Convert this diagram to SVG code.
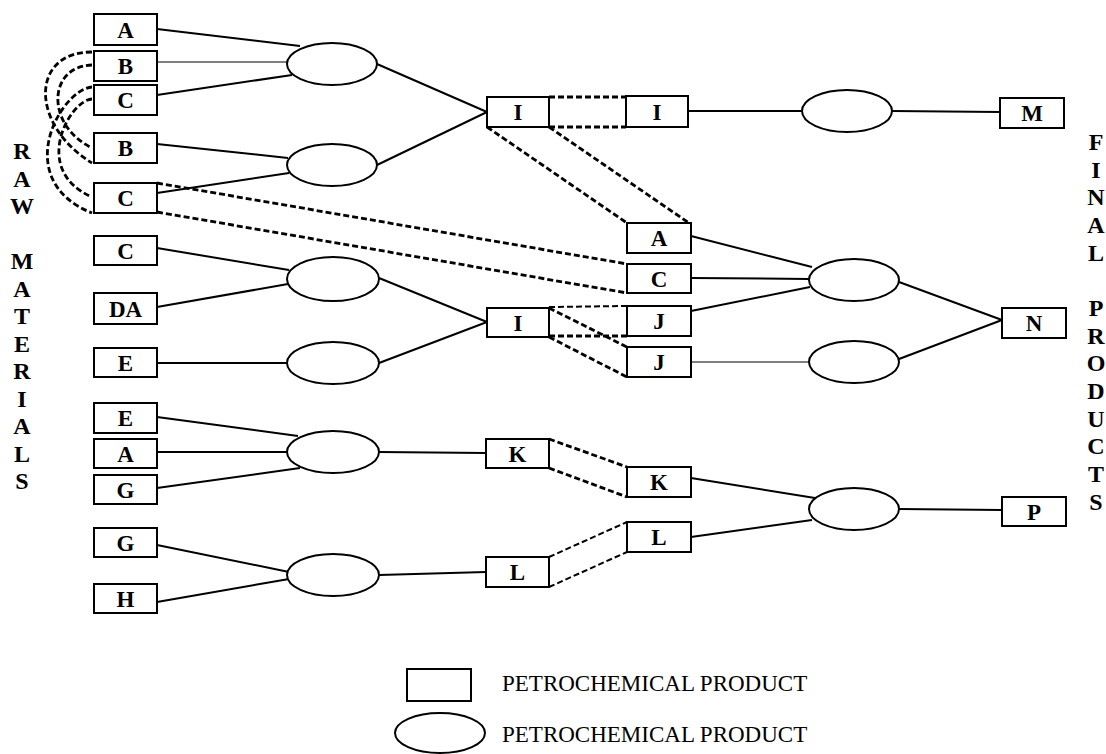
<svg xmlns="http://www.w3.org/2000/svg" width="1106" height="754" viewBox="0 0 1106 754">
  <style>
    .box { fill: #ffffff; stroke: #000000; stroke-width: 2; }
    .proc { fill: #ffffff; stroke: #000000; stroke-width: 2; }
    .lbl { font-family: "Liberation Serif", "Times New Roman", serif; font-weight: bold; font-size: 23px; text-anchor: middle; fill: #000000; }
    .side { font-family: "Liberation Serif", "Times New Roman", serif; font-weight: bold; font-size: 24px; text-anchor: middle; fill: #000000; }
    .legend { font-family: "Liberation Serif", "Times New Roman", serif; font-size: 23px; fill: #000000; }
    .ln { fill: none; stroke: #000000; stroke-width: 2; }
    .thin { fill: none; stroke: #000000; stroke-width: 1.2; }
    .dash { fill: none; stroke: #000000; stroke-width: 2.8; stroke-dasharray: 6 3; }
    .dash-thin { fill: none; stroke: #000000; stroke-width: 2; stroke-dasharray: 6 3; }
  </style>

  <rect width="1106" height="754" fill="#ffffff"/>

  <!-- connectors -->
  <g id="connectors">
    <!-- raw materials into first-stage processes -->
    <line class="ln" x1="157" y1="29" x2="300" y2="46"/>
    <line class="thin" x1="157" y1="62" x2="287" y2="62"/>
    <line class="ln" x1="157" y1="95" x2="292" y2="75"/>
    <line class="ln" x1="157" y1="144" x2="288" y2="158"/>
    <line class="ln" x1="157" y1="193" x2="289" y2="173"/>
    <line class="ln" x1="377" y1="64" x2="487" y2="112"/>
    <line class="ln" x1="377" y1="165" x2="487" y2="112"/>
    <line class="ln" x1="157" y1="248" x2="289" y2="270"/>
    <line class="ln" x1="157" y1="307" x2="288" y2="284"/>
    <line class="ln" x1="157" y1="363" x2="287" y2="363"/>
    <line class="ln" x1="379" y1="278" x2="487" y2="322"/>
    <line class="ln" x1="379" y1="363" x2="487" y2="322"/>
    <line class="ln" x1="157" y1="417" x2="298" y2="436"/>
    <line class="ln" x1="157" y1="452" x2="287" y2="452"/>
    <line class="ln" x1="157" y1="488" x2="300" y2="468"/>
    <line class="ln" x1="379" y1="452" x2="486" y2="453"/>
    <line class="ln" x1="157" y1="545" x2="289" y2="572"/>
    <line class="ln" x1="157" y1="602" x2="289" y2="579"/>
    <line class="ln" x1="379" y1="575" x2="486" y2="572"/>

    <!-- intermediates into final products -->
    <line class="ln" x1="688" y1="111" x2="802" y2="111"/>
    <line class="ln" x1="892" y1="111" x2="1000" y2="112"/>
    <line class="ln" x1="691" y1="236" x2="812" y2="267"/>
    <line class="ln" x1="691" y1="278" x2="809" y2="279"/>
    <line class="ln" x1="691" y1="311" x2="810" y2="287"/>
    <line class="thin" x1="688" y1="362" x2="809" y2="362"/>
    <line class="ln" x1="899" y1="282" x2="1002" y2="320"/>
    <line class="ln" x1="899" y1="359" x2="1002" y2="320"/>
    <line class="ln" x1="691" y1="478" x2="815" y2="498"/>
    <line class="ln" x1="691" y1="537" x2="812" y2="520"/>
    <line class="ln" x1="899" y1="509" x2="1002" y2="510"/>

    <!-- same-product links -->
    <path class="dash" d="M92,52 C30,52 30,125 92,163"/>
    <path class="dash" d="M92,65 C48,66 45,125 92,148"/>
    <path class="dash" d="M92,87 C60,90 10,180 92,213"/>
    <path class="dash" d="M92,99 C70,100 30,170 92,197"/>

    <line class="dash" x1="157" y1="183" x2="627" y2="264"/>
    <line class="dash" x1="157" y1="212" x2="627" y2="293"/>

    <line class="dash" x1="549" y1="97" x2="626" y2="97"/>
    <line class="dash" x1="549" y1="127" x2="626" y2="127"/>
    <line class="dash" x1="487" y1="127" x2="627" y2="223"/>
    <line class="dash" x1="549" y1="127" x2="689" y2="223"/>

    <line class="dash-thin" x1="549" y1="307" x2="627" y2="306"/>
    <line class="dash" x1="549" y1="336" x2="627" y2="336"/>
    <line class="dash" x1="549" y1="308" x2="627" y2="347"/>
    <line class="dash" x1="549" y1="337" x2="627" y2="377"/>

    <line class="dash" x1="549" y1="439" x2="627" y2="467"/>
    <line class="dash" x1="549" y1="468" x2="627" y2="497"/>
    <line class="dash-thin" x1="549" y1="557" x2="627" y2="522"/>
    <line class="dash-thin" x1="549" y1="587" x2="627" y2="552"/>
  </g>

  <!-- raw material boxes -->
  <g id="raw-a"><rect class="box" x="94" y="14" width="63" height="31"/><text class="lbl" x="125.5" y="37.5">A</text></g>
  <g id="raw-b"><rect class="box" x="94" y="51" width="63" height="30"/><text class="lbl" x="125.5" y="74">B</text></g>
  <g id="raw-c"><rect class="box" x="94" y="85" width="63" height="30"/><text class="lbl" x="125.5" y="108">C</text></g>
  <g id="raw-b2"><rect class="box" x="94" y="133" width="63" height="30"/><text class="lbl" x="125.5" y="156">B</text></g>
  <g id="raw-c2"><rect class="box" x="94" y="183" width="63" height="30"/><text class="lbl" x="125.5" y="206">C</text></g>
  <g id="raw-c3"><rect class="box" x="94" y="236" width="63" height="29"/><text class="lbl" x="125.5" y="258.5">C</text></g>
  <g id="raw-da"><rect class="box" x="94" y="293" width="63" height="31"/><text class="lbl" x="125.5" y="316.5">DA</text></g>
  <g id="raw-e"><rect class="box" x="94" y="348" width="63" height="29"/><text class="lbl" x="125.5" y="370.5">E</text></g>
  <g id="raw-e2"><rect class="box" x="94" y="403" width="63" height="30"/><text class="lbl" x="125.5" y="426">E</text></g>
  <g id="raw-a2"><rect class="box" x="94" y="439" width="63" height="29"/><text class="lbl" x="125.5" y="461.5">A</text></g>
  <g id="raw-g"><rect class="box" x="94" y="475" width="63" height="29"/><text class="lbl" x="125.5" y="497.5">G</text></g>
  <g id="raw-g2"><rect class="box" x="94" y="528" width="63" height="29"/><text class="lbl" x="125.5" y="550.5">G</text></g>
  <g id="raw-h"><rect class="box" x="94" y="584" width="63" height="29"/><text class="lbl" x="125.5" y="606.5">H</text></g>

  <!-- first-stage processes -->
  <g id="proc-1"><ellipse class="proc" cx="332" cy="64" rx="45" ry="21"/></g>
  <g id="proc-2"><ellipse class="proc" cx="332" cy="165" rx="45" ry="21"/></g>
  <g id="proc-3"><ellipse class="proc" cx="333" cy="279" rx="46" ry="22"/></g>
  <g id="proc-4"><ellipse class="proc" cx="333" cy="363" rx="46" ry="21"/></g>
  <g id="proc-5"><ellipse class="proc" cx="333" cy="452" rx="46" ry="21"/></g>
  <g id="proc-6"><ellipse class="proc" cx="333" cy="575" rx="46" ry="21"/></g>

  <!-- intermediate products -->
  <g id="int-i1"><rect class="box" x="487" y="97" width="62" height="30"/><text class="lbl" x="518" y="120">I</text></g>
  <g id="int-i2"><rect class="box" x="487" y="308" width="62" height="29"/><text class="lbl" x="518" y="330.5">I</text></g>
  <g id="int-k"><rect class="box" x="486" y="439" width="63" height="29"/><text class="lbl" x="517.5" y="461.5">K</text></g>
  <g id="int-l"><rect class="box" x="486" y="557" width="63" height="30"/><text class="lbl" x="517.5" y="580">L</text></g>

  <g id="int-i1b"><rect class="box" x="626" y="96" width="62" height="31"/><text class="lbl" x="657" y="119.5">I</text></g>
  <g id="int-a"><rect class="box" x="627" y="223" width="64" height="30"/><text class="lbl" x="659" y="246">A</text></g>
  <g id="int-c"><rect class="box" x="627" y="264" width="64" height="29"/><text class="lbl" x="659" y="286.5">C</text></g>
  <g id="int-j1"><rect class="box" x="627" y="306" width="64" height="30"/><text class="lbl" x="659" y="329">J</text></g>
  <g id="int-j2"><rect class="box" x="627" y="347" width="64" height="30"/><text class="lbl" x="659" y="370">J</text></g>
  <g id="int-k2"><rect class="box" x="627" y="467" width="64" height="30"/><text class="lbl" x="659" y="490">K</text></g>
  <g id="int-l2"><rect class="box" x="627" y="522" width="64" height="30"/><text class="lbl" x="659" y="545">L</text></g>

  <!-- second-stage processes -->
  <g id="proc-m"><ellipse class="proc" cx="847" cy="111" rx="45" ry="21"/></g>
  <g id="proc-n1"><ellipse class="proc" cx="854" cy="280" rx="45" ry="21"/></g>
  <g id="proc-n2"><ellipse class="proc" cx="854" cy="362" rx="45" ry="21"/></g>
  <g id="proc-p"><ellipse class="proc" cx="854" cy="509" rx="45" ry="21"/></g>

  <!-- final products -->
  <g id="final-m"><rect class="box" x="1000" y="98" width="64" height="30"/><text class="lbl" x="1032" y="121">M</text></g>
  <g id="final-n"><rect class="box" x="1002" y="308" width="64" height="30"/><text class="lbl" x="1034" y="331">N</text></g>
  <g id="final-p"><rect class="box" x="1002" y="497" width="64" height="29"/><text class="lbl" x="1034" y="519.5">P</text></g>

  <!-- side captions -->
  <g id="raw-materials-caption">
    <text class="side" x="22" y="159">R</text>
    <text class="side" x="22" y="187">A</text>
    <text class="side" x="22" y="214">W</text>
    <text class="side" x="22" y="269">M</text>
    <text class="side" x="22" y="297">A</text>
    <text class="side" x="22" y="324">T</text>
    <text class="side" x="22" y="352">E</text>
    <text class="side" x="22" y="379">R</text>
    <text class="side" x="22" y="407">I</text>
    <text class="side" x="22" y="434">A</text>
    <text class="side" x="22" y="462">L</text>
    <text class="side" x="22" y="489">S</text>
  </g>
  <g id="final-products-caption">
    <text class="side" x="1096" y="150">F</text>
    <text class="side" x="1096" y="178">I</text>
    <text class="side" x="1096" y="205">N</text>
    <text class="side" x="1096" y="233">A</text>
    <text class="side" x="1096" y="261">L</text>
    <text class="side" x="1096" y="316">P</text>
    <text class="side" x="1096" y="344">R</text>
    <text class="side" x="1096" y="371">O</text>
    <text class="side" x="1096" y="399">D</text>
    <text class="side" x="1096" y="427">U</text>
    <text class="side" x="1096" y="454">C</text>
    <text class="side" x="1096" y="482">T</text>
    <text class="side" x="1096" y="510">S</text>
  </g>

  <!-- legend -->
  <g id="legend">
    <rect class="box" x="407" y="669" width="64" height="32"/>
    <text class="legend" x="502" y="691">PETROCHEMICAL PRODUCT</text>
    <ellipse class="proc" cx="440" cy="733" rx="45" ry="20"/>
    <text class="legend" x="502" y="742">PETROCHEMICAL PRODUCT</text>
  </g>
</svg>
